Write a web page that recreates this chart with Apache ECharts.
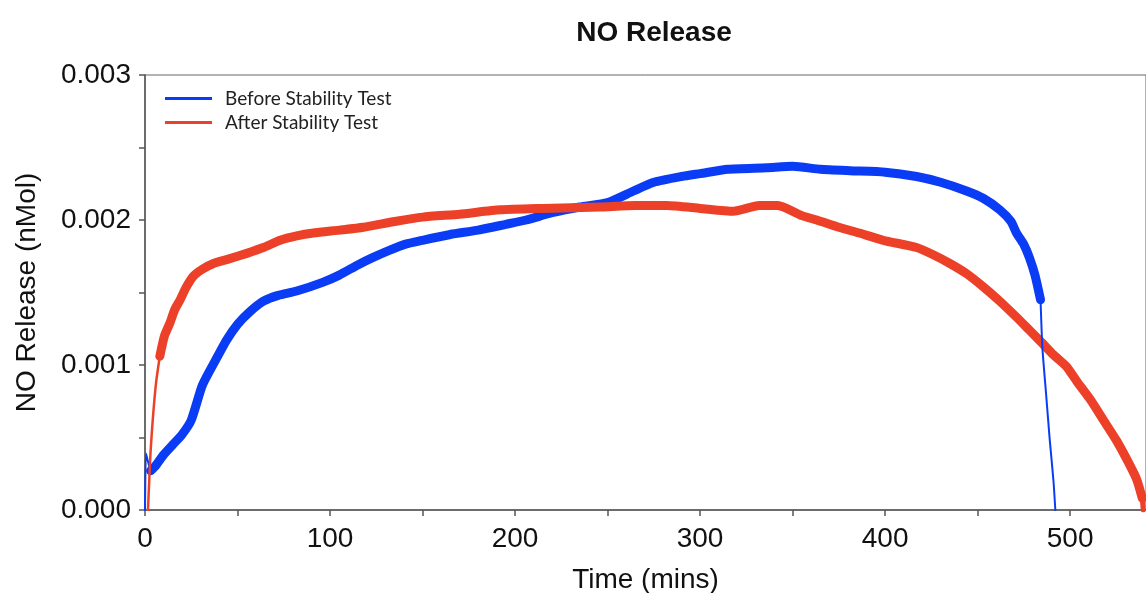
<!DOCTYPE html>
<html lang="en">
<head>
    <meta charset="UTF-8">
    <title>NO Release</title>
    <style>
        html, body { margin: 0; padding: 0; background: #fff; }
        #chart { width: 1146px; height: 593px; }
    </style>
</head>
<body>
    <div id="chart"></div>

    <script src="https://cdn.jsdelivr.net/npm/echarts@6/dist/echarts.min.js"></script>
    <script>
        // Before Stability Test - initial spike (thin)
        var beforeStartTime = [0, 0.5, 1.5, 3];
        var beforeStartValue = [0, 0.00039, 0.00034, 0.00027];
        // Before Stability Test - main noisy band (thick)
        var beforeTime = [3, 6, 10, 15, 20, 25, 31, 38, 44, 50, 56, 64, 72, 82, 96, 105, 115, 123, 132, 140,
            150, 165, 180, 195, 206, 220, 235, 250, 264, 275, 290, 300, 315, 336, 350, 365, 381, 400, 417, 430,
            444, 453, 462, 468, 471, 475, 478, 481, 484];
        var beforeValue = [0.00027, 0.00031, 0.00038, 0.00045, 0.00052, 0.00062, 0.00086, 0.00103, 0.00117, 0.00128,
            0.00136, 0.00144, 0.00148, 0.00151, 0.00157, 0.00162, 0.00169, 0.00174, 0.00179, 0.00183,
            0.00186, 0.00190, 0.00193, 0.00197, 0.00200, 0.00205, 0.00209, 0.00212, 0.00220, 0.00226,
            0.00230, 0.00232, 0.00235, 0.00236, 0.00237, 0.00235, 0.00234, 0.00233, 0.00230, 0.00226,
            0.00220, 0.00215, 0.00207, 0.00199, 0.00191, 0.00183, 0.00174, 0.00162, 0.00145];
        // Before Stability Test - final drop (thin)
        var beforeEndTime = [484, 485, 487, 489, 491, 492];
        var beforeEndValue = [0.00145, 0.00112, 0.00080, 0.00048, 0.00020, 0];

        // After Stability Test - initial rise (thin)
        var afterStartTime = [1.6, 3, 4.3, 6, 8];
        var afterStartValue = [0, 0.00040, 0.00064, 0.00088, 0.00106];
        // After Stability Test - main noisy band (thick)
        var afterTime = [8, 10.5, 13.5, 16, 19, 22, 26, 31, 37, 45, 55, 64, 73, 82, 91, 105, 118, 135, 150, 170,
            192, 215, 246, 265, 282, 300, 318, 332, 342, 355, 363, 375, 386, 399, 417, 426, 435, 444, 453, 462,
            471, 478, 485, 491, 498, 504, 511, 518, 525, 531, 536, 539];
        var afterValue = [0.00106, 0.00120, 0.00129, 0.00138, 0.00145, 0.00153, 0.00161, 0.00166, 0.00170, 0.00173,
            0.00177, 0.00181, 0.00186, 0.00189, 0.00191, 0.00193, 0.00195, 0.00199, 0.00202, 0.00204,
            0.00207, 0.00208, 0.00209, 0.00210, 0.00210, 0.00208, 0.00206, 0.00210, 0.00210, 0.00203,
            0.00200, 0.00195, 0.00191, 0.00186, 0.00181, 0.00176, 0.00170, 0.00163, 0.00154, 0.00144,
            0.00133, 0.00124, 0.00115, 0.00107, 0.00099, 0.00088, 0.00076, 0.00062, 0.00048, 0.00034,
            0.00021, 0.00008];
        var afterEndTime = [539, 539.5];
        var afterEndValue = [0.00008, 0];

        var xTicks = [0, 100, 200, 300, 400, 500];
        var yTicks = [0, 0.001, 0.002, 0.003];

        var blue = '#0b3cf5';
        var red = '#ec4128';

        function pairs(xs, ys) {
            var out = [];
            for (let i = 0; i < xs.length; i++) {
                out.push([xs[i], ys[i]]);
            }
            return out;
        }

        function lineSeries(name, color, width, xs, ys) {
            return {
                name: name,
                type: 'line',
                showSymbol: false,
                symbol: 'none',
                smooth: 0.2,
                animation: false,
                lineStyle: { color: color, width: width, cap: 'round', join: 'round' },
                itemStyle: { color: color },
                data: pairs(xs, ys)
            };
        }

        let myChart = echarts.init(document.getElementById('chart'));

        var option = {
            backgroundColor: '#fff',
            title: {
                text: 'NO Release',
                left: 649,
                top: 14,
                textAlign: 'center',
                textStyle: {
                    fontFamily: 'Liberation Sans',
                    fontSize: 28,
                    fontWeight: 'bold',
                    color: '#111'
                }
            },
            legend: {
                orient: 'vertical',
                left: 160,
                top: 84,
                itemWidth: 47,
                itemHeight: 3,
                itemGap: 5,
                icon: 'rect',
                data: [
                    { name: 'Before Stability Test', itemStyle: { color: blue } },
                    { name: 'After Stability Test', itemStyle: { color: red } }
                ],
                textStyle: {
                    fontFamily: 'Lato',
                    fontSize: 19,
                    color: '#222',
                    padding: [0, 0, 0, 8]
                }
            },
            grid: {
                left: 145,
                right: 0,
                top: 75,
                bottom: 83,
                outerBoundsMode: 'none',
                containLabel: false,
                show: true,
                borderColor: '#666',
                borderWidth: 1
            },
            xAxis: {
                type: 'value',
                min: 0,
                max: 541,
                interval: 50,
                name: 'Time (mins)',
                nameLocation: 'middle',
                nameGap: 56,
                nameTextStyle: { fontFamily: 'Liberation Sans', fontSize: 28, color: '#111' },
                splitLine: { show: false },
                axisLine: { lineStyle: { color: '#555', width: 1.5 } },
                axisTick: { length: 6, lineStyle: { color: '#555', width: 1.5 } },
                axisLabel: {
                    fontFamily: 'Liberation Sans',
                    fontSize: 28,
                    color: '#111',
                    margin: 15,
                    showMaxLabel: false,
                    formatter: function (v) {
                        return xTicks.indexOf(v) >= 0 ? String(v) : '';
                    }
                }
            },
            yAxis: {
                type: 'value',
                min: 0,
                max: 0.003,
                interval: 0.0005,
                name: 'NO Release (nMol)',
                nameLocation: 'middle',
                nameGap: 104,
                nameTextStyle: { fontFamily: 'Liberation Sans', fontSize: 28, color: '#111' },
                splitLine: { show: false },
                axisLine: { show: true, lineStyle: { color: '#555', width: 1.5 } },
                axisTick: { show: true, length: 6, lineStyle: { color: '#555', width: 1.5 } },
                axisLabel: {
                    fontFamily: 'Liberation Sans',
                    fontSize: 28,
                    color: '#111',
                    margin: 14,
                    formatter: function (v) {
                        for (let i = 0; i < yTicks.length; i++) {
                            if (Math.abs(v - yTicks[i]) < 1e-9) return yTicks[i].toFixed(3);
                        }
                        return '';
                    }
                }
            },
            series: [
                lineSeries('Before Stability Test', blue, 2, beforeStartTime, beforeStartValue),
                lineSeries('Before Stability Test', blue, 9, beforeTime, beforeValue),
                lineSeries('After Stability Test', red, 2.5, afterStartTime, afterStartValue),
                lineSeries('After Stability Test', red, 9, afterTime, afterValue),
                lineSeries('After Stability Test', red, 5, afterEndTime, afterEndValue),
                lineSeries('Before Stability Test', blue, 2, beforeEndTime, beforeEndValue)
            ]
        };
        myChart.setOption(option);
    </script>
</body>
</html>
